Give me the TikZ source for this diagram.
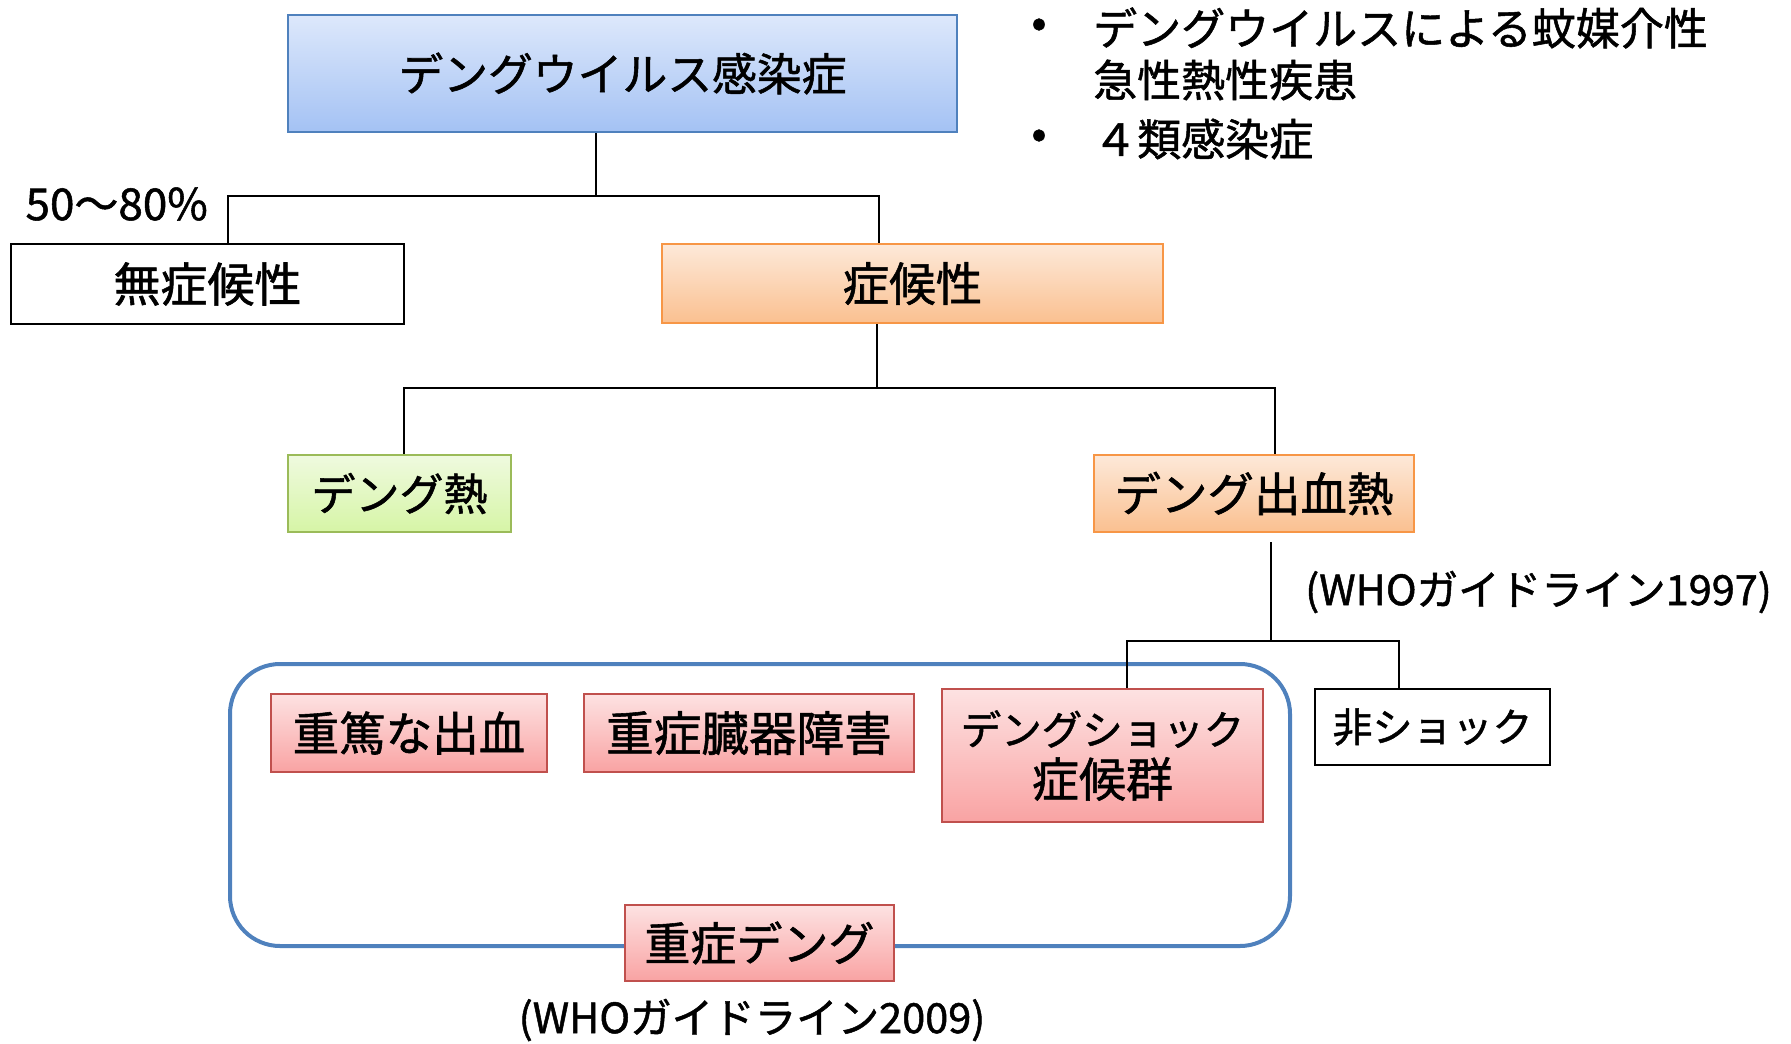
\documentclass[tikz,border=0pt]{standalone}
\usepackage{fontspec}
\setmainfont{Noto Sans CJK JP}[FakeBold=1.2]
\definecolor{bluetop}{HTML}{DDE8FB}
\definecolor{bluebot}{HTML}{A4C2F4}
\definecolor{blueedge}{HTML}{4F81BD}
\definecolor{orgtop}{HTML}{FDE9D9}
\definecolor{orgbot}{HTML}{FAC090}
\definecolor{orgedge}{HTML}{F79646}
\definecolor{grntop}{HTML}{EFFADF}
\definecolor{grnbot}{HTML}{D6F5A6}
\definecolor{grnedge}{HTML}{9BBB59}
\definecolor{redtop}{HTML}{FDE2E2}
\definecolor{redbot}{HTML}{F9A3A3}
\definecolor{rededge}{HTML}{C0504D}
\newcommand{\fs}[1]{\fontsize{#1}{#1}\selectfont}
\tikzset{
  lbl/.style={font=\fs{44}, inner sep=0pt},
  box/.style={lbl, draw, line width=2pt, align=center},
  bluebox/.style={box, draw=blueedge, top color=bluetop, bottom color=bluebot},
  orgbox/.style={box, draw=orgedge, top color=orgtop, bottom color=orgbot},
  grnbox/.style={box, draw=grnedge, top color=grntop, bottom color=grnbot},
  redbox/.style={box, draw=rededge, top color=redtop, bottom color=redbot},
  whitebox/.style={box, draw=black, fill=white},
  conn/.style={draw=black, line width=2.5pt},
  connthin/.style={draw=black, line width=2pt},
}
\begin{document}
\begin{tikzpicture}[x=1pt,y=-1pt]
\useasboundingbox (0,0) rectangle (1791,1044);
% group frame
\draw[blueedge, line width=4pt, rounded corners=50pt] (230,664) rectangle (1290,946);
% nodes
\node[bluebox, font=\fs{44.8}, minimum width=669pt, minimum height=117pt] (top) at (622.5,73.5) {デングウイルス感染症};
\node[whitebox, font=\fs{47}, minimum width=393pt, minimum height=80pt] (asym) at (207.5,284) {無症候性};
\node[orgbox, font=\fs{46.5}, minimum width=501pt, minimum height=79pt] (sym) at (912.5,283.5) {症候性};
\node[grnbox, minimum width=223pt, minimum height=77pt] (df) at (399.5,493.5) {デング熱};
\node[orgbox, font=\fs{46.5}, minimum width=320pt, minimum height=77pt] (dhf) at (1254,493.5) {デング出血熱};
\node[redbox, font=\fs{46.5}, minimum width=276pt, minimum height=78pt] (sev1) at (409,733) {重篤な出血};
\node[redbox, font=\fs{47.6}, minimum width=330pt, minimum height=78pt] (sev2) at (749,733) {重症臓器障害};
\node[redbox, minimum width=321pt, minimum height=133pt] (dss) at (1102.5,755.5) {{\fs{40.5}デングショック}\\[8pt]{\fs{47}症候群}};
\node[whitebox, font=\fs{40}, minimum width=235pt, minimum height=76pt] (nonshock) at (1432.5,727) {非ショック};
\node[redbox, font=\fs{46}, minimum width=269pt, minimum height=76pt] (sd) at (759.5,943) {重症デング};
% labels
\node[lbl, anchor=east] (pct) at (208,204) {50〜80\%};
\node[lbl, font=\fs{41.5}, anchor=west] (who97) at (1305,592) {(WHOガイドライン1997)};
\node[lbl, font=\fs{41.5}] (who09) at (752,1020) {(WHOガイドライン2009)};
\node[lbl] (b1) at (1039,28) {•};
\node[lbl, anchor=west] (t1) at (1093,28) {デングウイルスによる蚊媒介性};
\node[lbl, anchor=west] (t2) at (1093,80) {急性熱性疾患};
\node[lbl] (b2) at (1039,139) {•};
\node[lbl, anchor=west] (t3) at (1093,139) {４類感染症};
% connectors
\coordinate (j1) at (596,196);
\coordinate (a1) at (228,196);
\coordinate (c1) at (879,196);
\draw[conn] (j1 |- top.south) -- (j1);
\draw[conn] (a1 |- asym.north) -- (a1) -- (c1) -- (c1 |- sym.north);
\coordinate (j2) at (877,388);
\coordinate (a2) at (404,388);
\coordinate (c2) at (1275,388);
\draw[conn] (j2 |- sym.south) -- (j2);
\draw[conn] (a2 |- df.north) -- (a2) -- (c2) -- (c2 |- dhf.north);
\coordinate (s3) at (1271,542);
\coordinate (j3) at (1271,641);
\coordinate (a3) at (1127,641);
\coordinate (c3) at (1399,641);
\draw[connthin] (s3) -- (j3);
\draw[connthin] (a3 |- dss.north) -- (a3) -- (c3) -- (c3 |- nonshock.north);
\end{tikzpicture}
\end{document}
